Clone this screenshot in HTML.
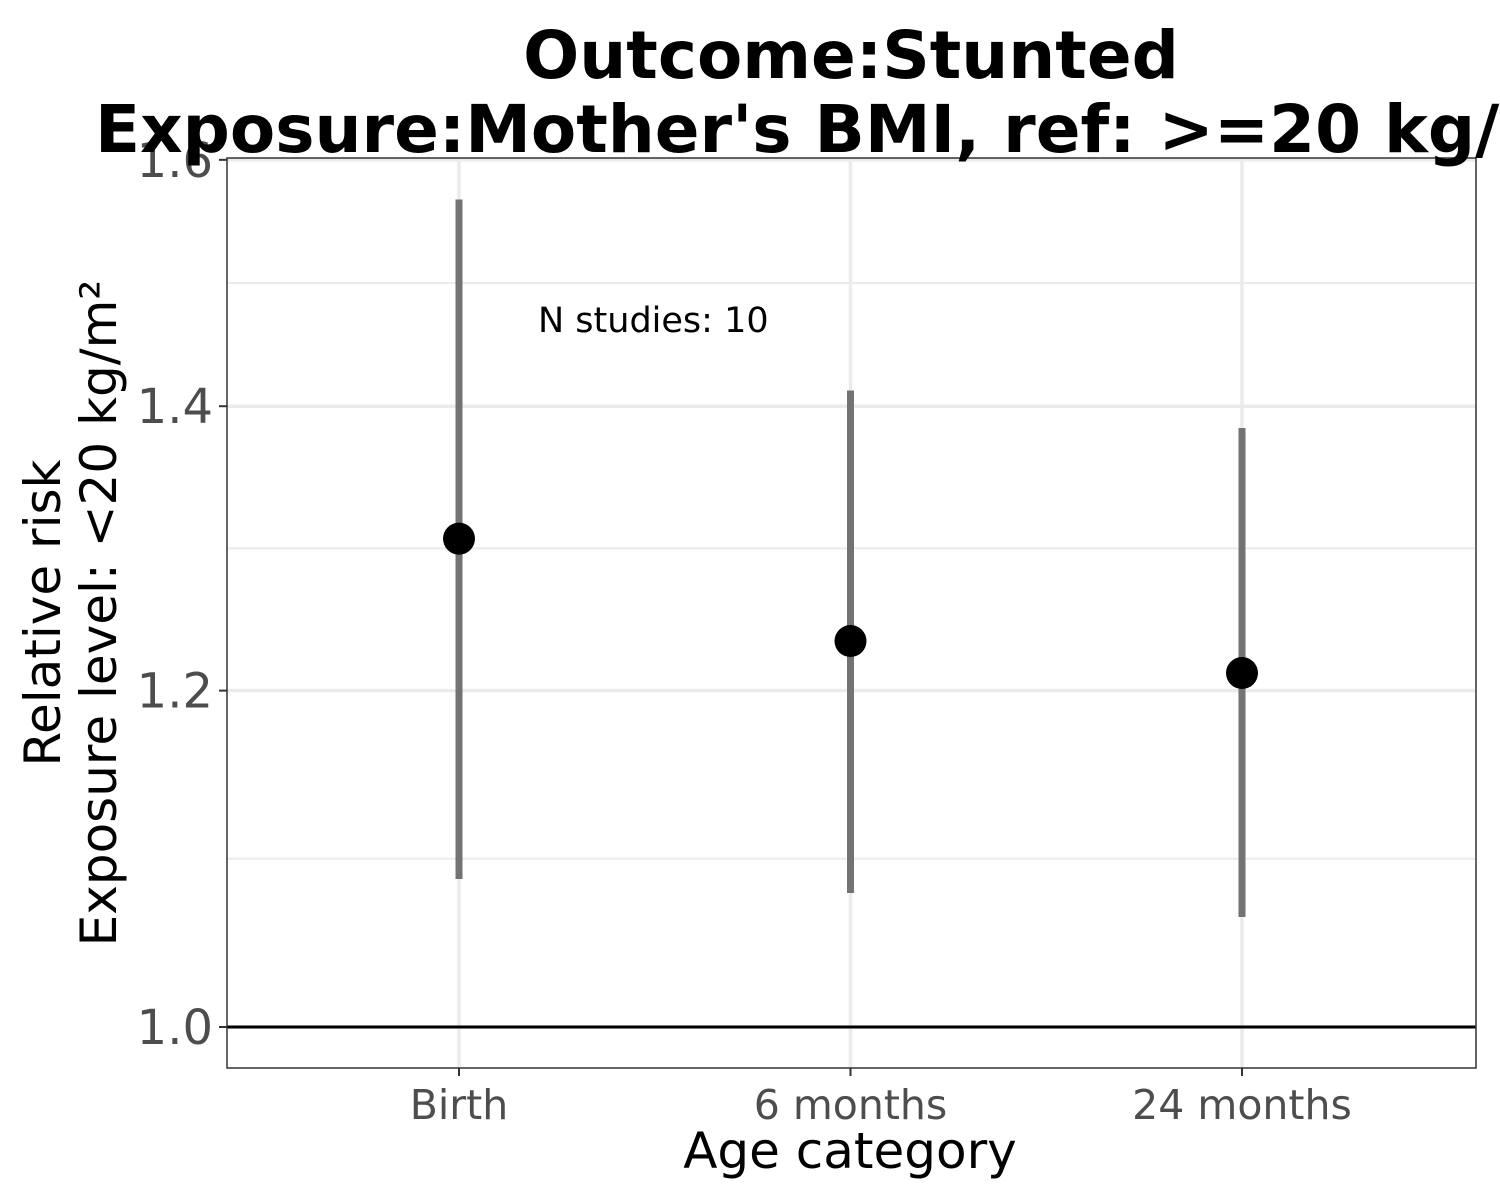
<!DOCTYPE html>
<html><head><meta charset="utf-8"><style>
html,body{margin:0;padding:0;background:#fff;}
svg{display:block;font-family:"DejaVu Sans","Liberation Sans",sans-serif;}
</style></head><body>
<svg id="chart" width="1500" height="1200" viewBox="0 0 1500 1200">
<g id="grid"></g>
<g id="marks"></g>
<rect x="227" y="158" width="1249" height="910" fill="none" stroke="#333" stroke-width="1.5"/>
<g id="axes"></g>
<text x="538" y="332" font-size="35" fill="#000">N studies: 10</text>
<text x="850" y="1168" font-size="50" text-anchor="middle" fill="#000">Age category</text>
<g transform="translate(60,613) rotate(-90)">
<text x="0" y="0" font-size="50" text-anchor="middle" fill="#000">Relative risk</text>
<text x="0" y="56" font-size="50" text-anchor="middle" fill="#000">Exposure level: &lt;20 kg/m²</text>
</g>
<text x="851" y="78" font-size="66" font-weight="bold" text-anchor="middle" fill="#000">Outcome:Stunted</text>
<text x="95" y="152" font-size="66" font-weight="bold" fill="#000">Exposure:Mother's BMI, ref: &gt;=20 kg/m²</text>
</svg>
<script>
const categories = ["Birth", "6 months", "24 months"];
const estimates = [1.303, 1.2327, 1.2115];
const lowerCI = [1.0835, 1.0753, 1.0614];
const upperCI = [1.566, 1.412, 1.3836];
const yTicks = [1.0, 1.2, 1.4, 1.6];
const yTickLabels = ["1.0", "1.2", "1.4", "1.6"];

const NS = "http://www.w3.org/2000/svg";
const X0 = 227, X1 = 1476, Y0 = 158, Y1 = 1068;
function xPos(i){ return 459 + i * 391.5; }
function yPos(v){ return 1027 - 1845 * Math.log(v); }
function mk(tag, attrs, parent){
  const el = document.createElementNS(NS, tag);
  for (const k in attrs) el.setAttribute(k, attrs[k]);
  parent.appendChild(el);
  return el;
}
const grid = document.getElementById('grid');
const marks = document.getElementById('marks');
const axes = document.getElementById('axes');

for (let i = 0; i < yTicks.length - 1; i++) {
  const m = Math.sqrt(yTicks[i] * yTicks[i + 1]);
  const l = mk('line', {x1: X0, x2: X1, y1: yPos(m), y2: yPos(m), stroke: '#ebebeb', 'stroke-width': 2}, grid);
  
  
}
yTicks.forEach((t, i) => {
  const y = yPos(t);
  const l = mk('line', {x1: X0, x2: X1, y1: y, y2: y, stroke: '#ebebeb', 'stroke-width': 3.5}, grid);
  
  
  const tk = mk('line', {x1: X0 - 8, x2: X0, y1: y, y2: y, stroke: '#333', 'stroke-width': 2}, axes);
  
  
  const tx = mk('text', {x: X0 - 14, y: y + 17, 'font-size': 48, 'text-anchor': 'end', fill: '#4d4d4d'}, axes);
  tx.textContent = yTickLabels[i];
  
  
});
categories.forEach((c, i) => {
  const x = xPos(i);
  const l = mk('line', {x1: x, x2: x, y1: Y0, y2: Y1, stroke: '#ebebeb', 'stroke-width': 3.5}, grid);
  
  
  const tk = mk('line', {x1: x, x2: x, y1: Y1, y2: Y1 + 8, stroke: '#333', 'stroke-width': 2}, axes);
  
  
  const tx = mk('text', {x: x, y: Y1 + 51, 'font-size': 41, 'text-anchor': 'middle', fill: '#4d4d4d'}, axes);
  tx.textContent = c;
  
  
});
const ref = mk('line', {x1: X0, x2: X1, y1: yPos(1), y2: yPos(1), stroke: '#000', 'stroke-width': 3}, marks);


categories.forEach((c, i) => {
  const x = xPos(i);
  const e = mk('line', {x1: x, x2: x, y1: yPos(upperCI[i]), y2: yPos(lowerCI[i]), stroke: '#737373', 'stroke-width': 7}, marks);
  
  
  const p = mk('circle', {cx: x, cy: yPos(estimates[i]), r: 16, fill: '#000'}, marks);
  
  
});
</script>
</body></html>
